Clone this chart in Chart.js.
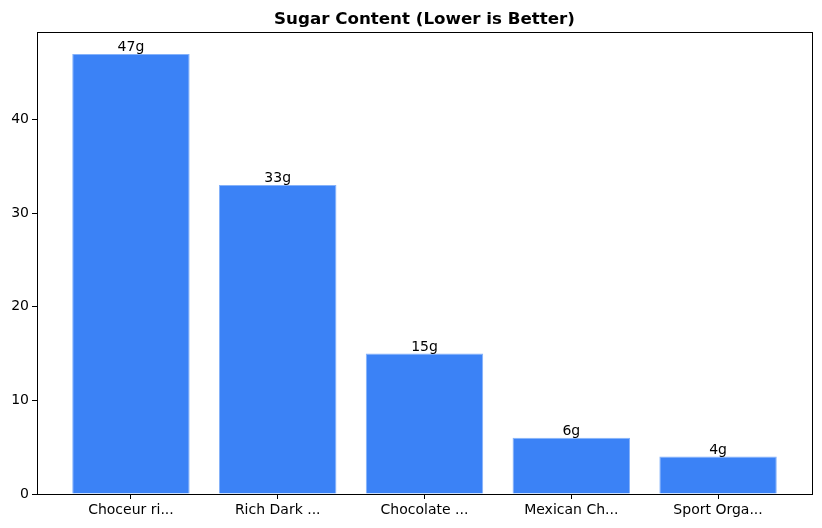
<!DOCTYPE html>
<html>
<head>
<meta charset="utf-8">
<script src="https://cdn.jsdelivr.net/npm/chart.js@4.4.1/dist/chart.umd.min.js"></script>
<style>
html,body{margin:0;padding:0;background:#fff;}
#wrap{width:822px;height:528px;}
</style>
</head>
<body>
<div id="wrap"><canvas id="c" width="822" height="528"></canvas></div>
<script>
const categories = ["Choceur ri...", "Rich Dark ...", "Chocolate ...", "Mexican Ch...", "Sport Orga..."];
const sugarValues = [47, 33, 15, 6, 4];
const valueLabels = ["47g", "33g", "15g", "6g", "4g"];
const yTicks = [0, 10, 20, 30, 40];
const titleText = "Sugar Content (Lower is Better)";

const FONT = "'DejaVu Sans', sans-serif";

const overlay = {
  id: 'overlay',
  afterDraw(chart) {
    const ctx = chart.ctx;
    const a = chart.chartArea;
    ctx.save();
    ctx.strokeStyle = '#000';
    ctx.lineWidth = 1;
    ctx.strokeRect(Math.round(a.left) + 0.5, Math.round(a.top) + 0.5, Math.round(a.right - a.left), Math.round(a.bottom - a.top));
    ctx.fillStyle = '#000';
    ctx.font = 'bold 16.7px ' + FONT;
    ctx.textAlign = 'center';
    ctx.textBaseline = 'alphabetic';
    ctx.fillText(titleText, (a.left + a.right) / 2, 24);
    ctx.font = '14px ' + FONT;
    const meta = chart.getDatasetMeta(0);
    meta.data.forEach((bar, i) => {
      ctx.fillText(valueLabels[i], bar.x, bar.y - 3);
    });
    ctx.restore();
  }
};

new Chart(document.getElementById('c'), {
  type: 'bar',
  data: {
    datasets: [{
      data: sugarValues.map((v, i) => ({x: i, y: v})),
      backgroundColor: '#3b82f6',
      borderColor: 'rgba(120,170,250,0.9)',
      borderWidth: 1,
      barPercentage: 0.8,
      categoryPercentage: 1.0
    }]
  },
  plugins: [overlay],
  options: {
    responsive: false,
    animation: false,
    devicePixelRatio: 1,
    layout: {padding: {top: 32, right: 10, left: 0, bottom: 0}},
    plugins: {legend: {display: false}, title: {display: false}, tooltip: {enabled: false}},
    scales: {
      x: {
        type: 'linear',
        offset: false,
        min: -0.64,
        max: 4.64,
        afterBuildTicks: (s) => { s.ticks = categories.map((c, i) => ({value: i})); },
        afterFit: (s) => { s.height = 34; },
        ticks: {
          callback: (v) => categories[v],
          color: '#000',
          font: {family: FONT, size: 14},
          padding: 3,
          maxRotation: 0,
          autoSkip: false
        },
        grid: {display: true, offset: false, drawOnChartArea: false, drawTicks: true, tickLength: 5, color: '#000'},
        border: {display: true, color: '#000'}
      },
      y: {
        min: 0,
        max: 49.35,
        afterBuildTicks: (s) => { s.ticks = yTicks.map(v => ({value: v})); },
        afterFit: (s) => { s.width = 37; },
        ticks: {
          color: '#000',
          font: {family: FONT, size: 14},
          padding: 3
        },
        grid: {display: true, drawOnChartArea: false, drawTicks: true, tickLength: 5, color: '#000'},
        border: {display: true, color: '#000'}
      }
    }
  }
});
</script>
</body>
</html>
